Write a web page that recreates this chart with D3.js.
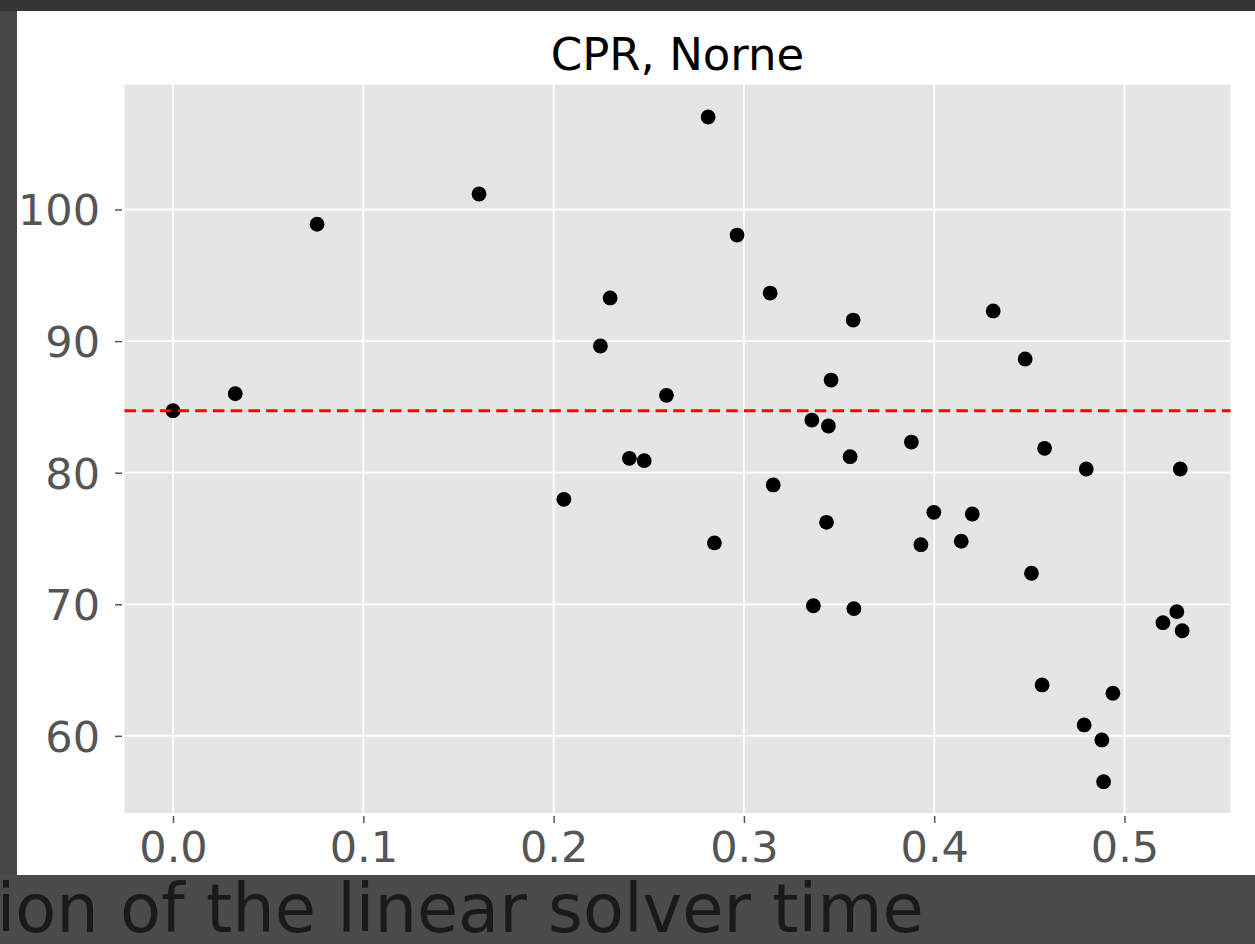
<!DOCTYPE html>
<html lang="en">
<head>
  <meta charset="UTF-8">
  <title>CPR, Norne</title>
  <script src="https://d3js.org/d3.v7.min.js"></script>
  <style>
    html, body {
      margin: 0;
      padding: 0;
      background-color: #4b4b4b;
      overflow: hidden;
    }
    svg {
      display: block;
      font-family: 'DejaVu Sans', sans-serif;
    }
    .tick text {
      fill: #555555;
      font-size: 43px;
    }
    .tick line {
      stroke: #555555;
      stroke-width: 1.5px;
    }
  </style>
</head>
<body>
  <svg width="1255" height="944"></svg>

  <script>
    // Fraction of linear solver time (x) vs value (y)
    const fractions = [
      0.0, 0.0327, 0.0757, 0.1608, 0.2054, 0.2246, 0.2297, 0.2398, 0.2476, 0.2593,
      0.2812, 0.2845, 0.2964, 0.3138, 0.3154, 0.3357, 0.3365, 0.3434, 0.3444, 0.3458,
      0.3558, 0.3574, 0.3578, 0.3880, 0.3930, 0.3998, 0.4142, 0.4200, 0.4310, 0.4478,
      0.4511, 0.4567, 0.4580, 0.4788, 0.4799, 0.4881, 0.4890, 0.4939, 0.5202, 0.5275,
      0.5293, 0.5303
    ];
    const values = [
      84.71, 86.0, 98.88, 101.18, 77.98, 89.63, 93.28, 81.09, 80.91, 85.88,
      107.03, 74.66, 98.06, 93.65, 79.07, 84.0, 69.89, 76.23, 83.55, 87.04,
      81.22, 91.6, 69.67, 82.33, 74.53, 76.99, 74.79, 76.86, 92.29, 88.64,
      72.36, 63.87, 81.85, 60.83, 80.28, 59.69, 56.52, 63.24, 68.6, 69.44,
      80.28, 67.99
    ];
    const meanLine = 84.71;

    const xTicks = [0.0, 0.1, 0.2, 0.3, 0.4, 0.5];
    const yTicks = [60, 70, 80, 90, 100];
    const title = "CPR, Norne";
    const footer = "ion of the linear solver time";

    const svg = d3.select("svg");

    // page background pieces around the figure
    svg.append("rect").attr("x", 0).attr("y", 0).attr("width", 1255).attr("height", 944).attr("fill", "#4b4b4b");
    svg.append("rect").attr("x", 0).attr("y", 0).attr("width", 1255).attr("height", 11).attr("fill", "#353535");
    svg.append("rect").attr("x", 0).attr("y", 11).attr("width", 17).attr("height", 864).attr("fill", "#474747");
    // figure
    svg.append("rect").attr("x", 17).attr("y", 11).attr("width", 1238).attr("height", 864).attr("fill", "#ffffff");

    const plot = {left: 124.5, right: 1230.5, top: 84.5, bottom: 813};

    const x = d3.scaleLinear()
      .domain([-0.0255, 0.5557])
      .range([plot.left, plot.right]);

    const y = d3.scaleLinear()
      .domain([54.14, 109.5])
      .range([plot.bottom, plot.top]);

    // axes background
    svg.append("rect")
      .attr("x", plot.left)
      .attr("y", plot.top)
      .attr("width", plot.right - plot.left)
      .attr("height", plot.bottom - plot.top)
      .attr("fill", "#e5e5e5");

    // grid
    svg.append("g")
      .selectAll("line")
      .data(xTicks)
      .join("line")
      .attr("x1", d => x(d)).attr("x2", d => x(d))
      .attr("y1", plot.top).attr("y2", plot.bottom)
      .attr("stroke", "#ffffff")
      .attr("stroke-width", 1.8);

    svg.append("g")
      .selectAll("line")
      .data(yTicks)
      .join("line")
      .attr("x1", plot.left).attr("x2", plot.right)
      .attr("y1", d => y(d)).attr("y2", d => y(d))
      .attr("stroke", "#ffffff")
      .attr("stroke-width", 1.8);

    // X axis
    const xAxis = svg.append("g")
      .attr("transform", `translate(0,${plot.bottom + 3})`)
      .call(d3.axisBottom(x).tickValues(xTicks).tickFormat(d3.format(".1f")).tickSize(7).tickPadding(8));
    xAxis.select(".domain").remove();
    xAxis.attr("font-family", null).attr("font-size", null);

    // Y axis
    const yAxis = svg.append("g")
      .attr("transform", `translate(${plot.left - 2.5},0)`)
      .call(d3.axisLeft(y).tickValues(yTicks).tickSize(7).tickPadding(15));
    yAxis.select(".domain").remove();
    yAxis.attr("font-family", null).attr("font-size", null);
    yAxis.selectAll("text").attr("dy", "0.36em");

    // points
    const points = fractions.map((f, i) => ({f: f, v: values[i]}));
    svg.append("g")
      .selectAll("circle")
      .data(points)
      .join("circle")
      .attr("cx", d => x(d.f))
      .attr("cy", d => y(d.v))
      .attr("r", 7.4)
      .attr("fill", "#000000");

    // mean line
    svg.append("line")
      .attr("x1", plot.left).attr("x2", plot.right)
      .attr("y1", y(meanLine)).attr("y2", y(meanLine))
      .attr("stroke", "#ff0000")
      .attr("stroke-width", 3)
      .attr("stroke-dasharray", "11.5 6.2");

    // title
    svg.append("text")
      .attr("x", (plot.left + plot.right) / 2)
      .attr("y", 69.5)
      .attr("text-anchor", "middle")
      .attr("font-size", 45)
      .attr("fill", "#000000")
      .text(title);

    // cut-off caption below the figure (clipped at the left edge, as in the source)
    svg.append("text")
      .attr("x", -3.3)
      .attr("y", 932)
      .attr("font-size", 67)
      .attr("fill", "#1a1a1a")
      .text(footer);
  </script>
</body>
</html>
